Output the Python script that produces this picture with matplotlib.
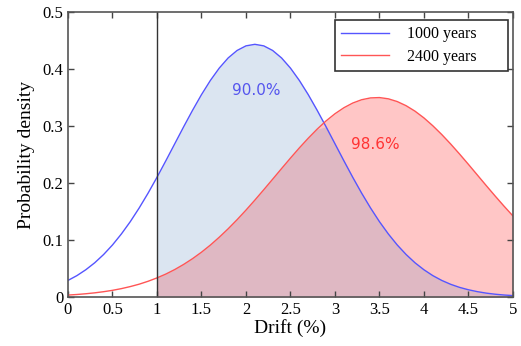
import matplotlib
matplotlib.use("Agg")
import matplotlib.pyplot as plt
import numpy as np

# drift grid (%) and densities
drift = [round(0.1 * i, 1) for i in range(51)]
pdf_1000 = [0.0291, 0.0375, 0.0478, 0.0600, 0.0745, 0.0913, 0.1106, 0.1322, 0.1562, 0.1822,
            0.2100, 0.2391, 0.2689, 0.2987, 0.3276, 0.3550, 0.3799, 0.4016, 0.4194, 0.4325,
            0.4406, 0.4433, 0.4406, 0.4325, 0.4194, 0.4016, 0.3799, 0.3550, 0.3276, 0.2987,
            0.2689, 0.2391, 0.2100, 0.1822, 0.1562, 0.1322, 0.1106, 0.0913, 0.0745, 0.0600,
            0.0478, 0.0375, 0.0291, 0.0223, 0.0169, 0.0127, 0.0094, 0.0068, 0.0049, 0.0035,
            0.0025]
pdf_2400 = [0.0034, 0.0044, 0.0057, 0.0073, 0.0093, 0.0117, 0.0147, 0.0183, 0.0225, 0.0276,
            0.0335, 0.0403, 0.0482, 0.0572, 0.0673, 0.0786, 0.0911, 0.1049, 0.1197, 0.1356,
            0.1524, 0.1700, 0.1882, 0.2067, 0.2253, 0.2437, 0.2616, 0.2786, 0.2945, 0.3089,
            0.3215, 0.3320, 0.3403, 0.3461, 0.3493, 0.3499, 0.3477, 0.3429, 0.3356, 0.3260,
            0.3142, 0.3004, 0.2851, 0.2685, 0.2509, 0.2327, 0.2141, 0.1955, 0.1772, 0.1594,
            0.1422]
threshold = 1.0
labels = ["1000 years", "2400 years"]
pct_text = ["90.0%", "98.6%"]

x = np.array(drift)
b = np.array(pdf_1000)
r = np.array(pdf_2400)
mask = x >= threshold

fig = plt.figure(figsize=(5.21, 3.46), dpi=100)
ax = fig.add_axes([0.1305, 0.1416, 0.854, 0.8237])

ax.fill_between(x, 0, b, where=mask, color="#dbe5f1", lw=0)
ax.fill_between(x, 0, r, where=mask, color="#ffc6c6", lw=0)
ax.fill_between(x, 0, np.minimum(b, r), where=mask, color="#dfb8c3", lw=0)
ax.plot(x, b, color="#5555ff", lw=1.0, label=labels[0])
ax.plot(x, r, color="#ff5555", lw=1.0, label=labels[1])
ax.axvline(threshold, color="#333333", lw=1.0)

ax.text(2.12, 0.363, pct_text[0], color="#5555ee", fontsize=11, ha="center", va="center",
        family="DejaVu Sans")
ax.text(3.45, 0.268, pct_text[1], color="#ff3333", fontsize=11, ha="center", va="center",
        family="DejaVu Sans")

ax.set_xlim(0, 5)
ax.set_ylim(0, 0.5)
ax.set_xticks(np.arange(0, 5.01, 0.5))
ax.set_xticklabels(["0", "0.5", "1", "1.5", "2", "2.5", "3", "3.5", "4", "4.5", "5"])
ax.set_yticks([0, 0.1, 0.2, 0.3, 0.4, 0.5])
ax.set_yticklabels(["0", "0.1", "0.2", "0.3", "0.4", "0.5"])
ax.tick_params(direction="in", top=True, right=True, length=4, width=1, color="#444444",
               labelsize=12)
for lab in ax.get_xticklabels() + ax.get_yticklabels():
    lab.set_family("Liberation Serif")
for s in ax.spines.values():
    s.set_color("#555555")
    s.set_linewidth(1.2)

ax.set_xlabel("Drift (%)", family="Liberation Serif", fontsize=14, labelpad=1)
ax.set_ylabel("Probability density", family="Liberation Serif", fontsize=14, labelpad=5)

leg = ax.legend(loc="upper right", prop={"family": "Liberation Serif", "size": 11.5},
                fancybox=False, edgecolor="#333333", framealpha=1, handlelength=3.0,
                handletextpad=1.1, borderpad=0.4, labelspacing=0.4, borderaxespad=0,
                mode="expand", bbox_to_anchor=(0.600, 0.70, 0.389, 0.272))
leg.get_frame().set_linewidth(1.2)

fig.savefig("out.png", dpi=100)
